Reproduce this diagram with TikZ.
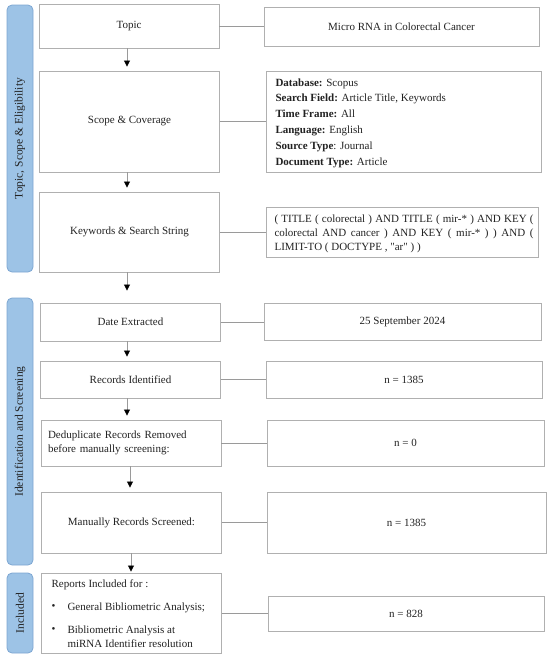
\documentclass[tikz,border=0pt]{standalone}
\usepackage{fontspec}
\setmainfont{Liberation Serif}[Ligatures=TeXOff]
\usetikzlibrary{arrows.meta}
\definecolor{barfill}{HTML}{9DC3E6}
\definecolor{bardraw}{HTML}{7DA6D2}
\definecolor{boxdraw}{HTML}{B0B0B0}
\definecolor{linegray}{HTML}{9A9A9A}
\definecolor{txt}{HTML}{222222}
\tikzset{
  x=1pt,y=-1pt,
  every node/.style={font=\fontsize{11}{12}\selectfont, text=txt},
  lbox/.style={draw=boxdraw, line width=0.9pt, fill=white, minimum width=180pt, inner sep=0pt},
  rbox/.style={draw=boxdraw, line width=0.9pt, fill=white, minimum width=275pt, inner sep=0pt},
  sidebar/.style={draw=bardraw, fill=barfill, rounded corners=5pt, line width=0.8pt, minimum width=26pt, inner sep=0pt},
  sidelabel/.style={rotate=90, font=\fontsize{11.5}{12}\selectfont, text=txt},
  flow/.style={draw=linegray, line width=0.8pt, arrows={-{Triangle[length=6pt,width=6pt,color=black]}}, shorten >=4pt},
  link/.style={draw=linegray, line width=0.8pt},
}
\begin{document}
\begin{tikzpicture}
\useasboundingbox (0,0) rectangle (550,659);
% side bars
\node[sidebar, minimum height=267pt] (bar1) at (20,138.5) {};
\node[sidelabel] at (bar1.center) {Topic, Scope \& Eligibility};
\node[sidebar, minimum height=267pt] (bar2) at (20,431.5) {};
\node[sidelabel] at (bar2.center) {Identification and Screening};
\node[sidebar, minimum height=80pt] (bar3) at (20,613) {};
\node[sidelabel] at (bar3.center) {Included};

% left boxes
\node[lbox, minimum height=44pt] (topic) at (129,26) {Topic};
\node[lbox, minimum height=101pt] (scope) at (129.5,121.5) {Scope \& Coverage};
\node[lbox, minimum height=80pt] (kw) at (129.5,232) {Keywords \& Search String};
\node[lbox, minimum height=38pt] (date) at (130.5,322) {Date Extracted};
\node[lbox, minimum height=37pt] (rec) at (130.5,379.5) {Records Identified};
\node[lbox, minimum height=46pt, align=left, text width=166pt, font=\fontsize{11}{14}\selectfont] (dedup) at (131,443) {Deduplicate Records Removed\\before manually screening:};
\node[lbox, minimum height=61pt] (man) at (131.5,522.5) {Manually Records Screened:};
\node[lbox, minimum height=80pt] (rep) at (131.5,613) {};
\node[anchor=west] (repT) at (48,585) {Reports Included for :};
\node[anchor=west] (b1) at (48,607.5) {\textbullet};
\node[anchor=west] (b1t) at (64,607.5) {General Bibliometric Analysis;};
\node[anchor=west] (b2) at (48,630) {\textbullet};
\node[anchor=west, align=left, font=\fontsize{11}{13.5}\selectfont] (b2t) at (64,636.5) {Bibliometric Analysis at\\miRNA Identifier resolution};

% right boxes
\node[rbox, minimum height=39pt] (micro) at (401.5,26.5) {Micro RNA in Colorectal Cancer};
\node[rbox, minimum height=101pt] (db) at (403.5,121.5) {};
\node[anchor=north west, align=left, font=\fontsize{11}{15.8}\selectfont] (dbT) at (272,75) {\textbf{Database:} Scopus\\\textbf{Search Field:} Article Title, Keywords\\\textbf{Time Frame:} All\\\textbf{Language:} English\\\textbf{Source Type}: Journal\\\textbf{Document Type:} Article};
\node[rbox, minimum height=50pt, minimum width=272pt] (str) at (402,232) {};
\node[anchor=north west, align=left, font=\fontsize{11}{14}\selectfont] (strT) at (271,211) {\makebox[259pt][s]{( TITLE ( colorectal ) AND TITLE ( mir-* ) AND KEY (}\\\makebox[259pt][s]{colorectal AND cancer ) AND KEY ( mir-* ) ) AND (}\\LIMIT-TO ( DOCTYPE , "ar" ) )};
\node[rbox, minimum height=37pt, minimum width=277pt] (d2) at (402.5,321.5) {25 September 2024};
\node[rbox, minimum height=37pt, minimum width=276pt] (n1) at (404,379.5) {n = 1385};
\node[rbox, minimum height=46pt, minimum width=277pt] (n0) at (405.5,443) {n = 0};
\node[rbox, minimum height=61pt, minimum width=279pt] (n2) at (406.5,522.5) {n = 1385};
\node[rbox, minimum height=35pt, minimum width=276pt] (n3) at (406,613.5) {n = 828};

% links
\draw[link] (topic.east) -- (topic.east -| micro.west);
\draw[link] (scope.east) -- (scope.east -| db.west);
\draw[link] (kw.east) -- (kw.east -| str.west);
\draw[link] (date.east) -- (date.east -| d2.west);
\draw[link] (rec.east) -- (rec.east -| n1.west);
\draw[link] (dedup.east) -- (dedup.east -| n0.west);
\draw[link] (man.east) -- (man.east -| n2.west);
\draw[link] (rep.east) -- (rep.east -| n3.west);

% flow arrows
\draw[flow] ([xshift=-2pt]topic.south) -- ([xshift=-2pt]topic.south |- scope.north);
\draw[flow] ([xshift=-2.5pt]scope.south) -- ([xshift=-2.5pt]scope.south |- kw.north);
\draw[flow, shorten >=12pt] ([xshift=-2.5pt]kw.south) -- ([xshift=-2.5pt]kw.south |- date.north);
\draw[flow] ([xshift=-3.5pt]date.south) -- ([xshift=-3.5pt]date.south |- rec.north);
\draw[flow] ([xshift=-3.5pt]rec.south) -- ([xshift=-3.5pt]rec.south |- dedup.north);
\draw[flow] ([xshift=-1pt]dedup.south) -- ([xshift=-1pt]dedup.south |- man.north);
\draw[flow, shorten >=1pt] ([xshift=-0.5pt]man.south) -- ([xshift=-0.5pt]man.south |- rep.north);
\end{tikzpicture}
\end{document}
